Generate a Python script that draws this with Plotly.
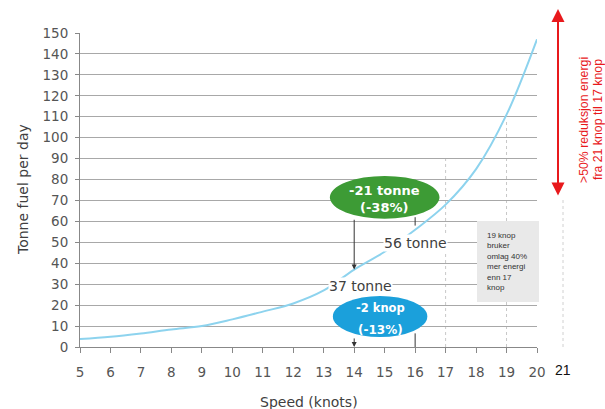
import plotly.graph_objects as go

speed = [5, 6, 7, 8, 9, 10, 11, 12, 13, 14, 15, 16, 17, 18, 19, 20]
fuel = [3.8, 4.9, 6.5, 8.4, 10.0, 13.2, 16.9, 20.8, 27.0, 37.0, 45.5, 56.0, 68.0, 85.0, 111.0, 147.0]
x_ticks = list(range(5, 21))
y_ticks = list(range(0, 151, 10))

FONT = "DejaVu Sans"
GREEN = "#3d9b35"
BLUE = "#1ba0db"
RED = "#e8191c"

fig = go.Figure()
fig.add_trace(go.Scatter(x=speed, y=fuel, mode="lines", line=dict(color="#8dd3ee", width=2, shape="spline"),
                         hoverinfo="skip", showlegend=False))

W_PLOT = 457.0
H_PLOT = 314.0
def px_x(px):
    return (px - 80) / W_PLOT
def px_y(py):
    return (347 - py) / H_PLOT

shapes = []
# dotted vertical guides
shapes.append(dict(type="line", xref="x", yref="y", x0=17, x1=17, y0=0, y1=90,
                   line=dict(color="#c8c8c8", width=1, dash="dot"), layer="below"))
shapes.append(dict(type="line", xref="x", yref="y", x0=19, x1=19, y0=0, y1=108,
                   line=dict(color="#c8c8c8", width=1, dash="dot"), layer="below"))
shapes.append(dict(type="line", xref="paper", yref="paper", x0=px_x(563), x1=px_x(563), y0=0, y1=px_y(200),
                   line=dict(color="#d0d0d0", width=1, dash="dot")))
# grey text box
shapes.append(dict(type="rect", xref="paper", yref="paper", x0=px_x(477), x1=px_x(539), y0=px_y(302), y1=px_y(221),
                   fillcolor="#e9e9e9", line=dict(width=0)))
# ellipses
shapes.append(dict(type="circle", xref="x", yref="y", x0=13.2, x1=16.8, y0=61.3, y1=81.7,
                   fillcolor=GREEN, line=dict(width=0)))
shapes.append(dict(type="circle", xref="x", yref="y", x0=13.3, x1=16.4, y0=4.8, y1=24.4,
                   fillcolor=BLUE, line=dict(width=0)))
# vertical connector lines at 16 knots
shapes.append(dict(type="line", xref="x", yref="y", x0=16, x1=16, y0=58, y1=62,
                   line=dict(color="#333333", width=1)))
shapes.append(dict(type="line", xref="x", yref="y", x0=16, x1=16, y0=0, y1=6.5,
                   line=dict(color="#333333", width=1)))

annotations = []
def label(**kw):
    kw.setdefault("xanchor", "center")
    kw.setdefault("yanchor", "middle")
    kw.setdefault("showarrow", False)
    annotations.append(kw)

# arrows at 14 knots
annotations.append(dict(x=14, y=37, ax=14, ay=61.5, xref="x", yref="y", axref="x", ayref="y",
                        showarrow=True, arrowhead=2, arrowsize=1, arrowwidth=1, arrowcolor="#333333", text=""))
annotations.append(dict(x=14, y=0, ax=14, ay=4.8, xref="x", yref="y", axref="x", ayref="y",
                        showarrow=True, arrowhead=2, arrowsize=1, arrowwidth=1, arrowcolor="#333333", text=""))
# ellipse texts
label(x=15, y=px_y(198.5), xref="x", yref="paper", text="<b>-21 tonne<br>(-38%)</b>", borderpad=0,
      font=dict(family=FONT, size=13, color="white"))
label(x=14.87, y=px_y(308), xref="x", yref="paper", text="<b>-2 knop</b>", borderpad=0,
      font=dict(family=FONT, size=11.5, color="white"))
label(x=14.87, y=px_y(330), xref="x", yref="paper", text="<b>(-13%)</b>", borderpad=0,
      font=dict(family=FONT, size=12, color="white"))
# tonne labels
label(x=14.2, y=px_y(286), xref="x", yref="paper", text="37 tonne", bgcolor="white", borderpad=0,
      font=dict(family=FONT, size=14, color="#404040"))
label(x=16, y=px_y(243), xref="x", yref="paper", text="56 tonne", bgcolor="white", borderpad=0,
      font=dict(family=FONT, size=14, color="#404040"))
# grey box text
label(x=px_x(485), y=px_y(229), xref="paper", yref="paper", xanchor="left", yanchor="top",
      text="19 knop<br>bruker<br>omlag 40%<br>mer energi<br>enn 17<br>knop", align="left",
      font=dict(family="Liberation Sans", size=8, color="#333333"))
# red double arrow
annotations.append(dict(x=px_x(558), y=px_y(9), xref="paper", yref="paper", ax=0, ay=188,
                        showarrow=True, arrowhead=2, arrowside="end+start", arrowsize=1.3, arrowwidth=2,
                        arrowcolor=RED, text=""))
label(x=px_x(584), y=px_y(120), xref="paper", yref="paper", textangle=-90, borderpad=0,
      text="&gt;50% reduksjon energi", font=dict(family="Liberation Sans", size=12.3, color=RED))
label(x=px_x(598), y=px_y(120), xref="paper", yref="paper", textangle=-90, borderpad=0,
      text="fra 21 knop til 17 knop", font=dict(family="Liberation Sans", size=12.3, color=RED))
# extra tick label 21
label(x=px_x(563), y=px_y(370), xref="paper", yref="paper", text="21",
      font=dict(family="Liberation Sans", size=14, color="#111111"))
# axis titles
label(x=px_x(23), y=0.5, xref="paper", yref="paper", text="Tonne fuel per day", textangle=-90,
      font=dict(family=FONT, size=14, color="#404040"))
label(x=0.5, y=px_y(402), xref="paper", yref="paper", text="Speed (knots)",
      font=dict(family=FONT, size=14, color="#404040"))

fig.update_layout(
    width=605, height=409,
    margin=dict(l=80, r=68, t=33, b=62),
    paper_bgcolor="white", plot_bgcolor="white",
    shapes=shapes, annotations=annotations,
    xaxis=dict(range=[5, 20], tickvals=x_ticks, ticktext=[str(v) for v in x_ticks], showgrid=False,
               showline=True, linecolor="#888888", linewidth=1, ticks="outside", ticklen=5, tickcolor="#888888",
               ticklabelstandoff=8,
               tickfont=dict(family=FONT, size=13.5, color="#555555"), zeroline=False, fixedrange=True),
    yaxis=dict(range=[0, 150], tickvals=y_ticks, showgrid=True, gridcolor="#a8a8a8", gridwidth=1,
               showline=True, linecolor="#888888", linewidth=1, ticks="outside", ticklen=4, tickcolor="#888888",
               ticklabelstandoff=4,
               tickfont=dict(family=FONT, size=13.5, color="#555555"), zeroline=False, fixedrange=True),
)

fig.write_html("out.html")
